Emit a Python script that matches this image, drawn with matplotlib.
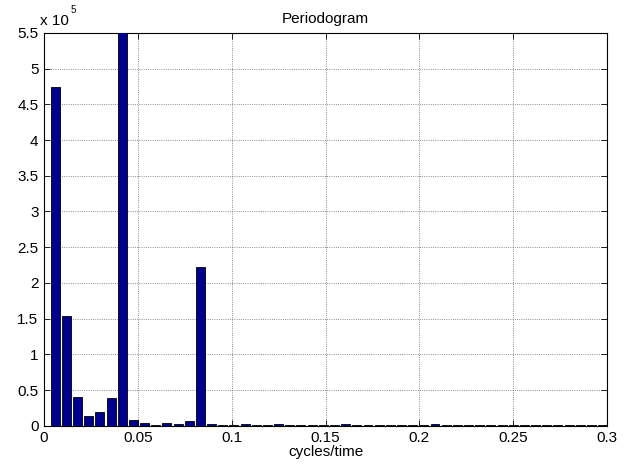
# periodogram bar chart (MATLAB look)

import numpy as np
import matplotlib
matplotlib.use('Agg')
import matplotlib.pyplot as plt

plt.rcParams['font.family'] = ['Liberation Sans', 'DejaVu Sans']
plt.rcParams['font.size'] = 11

# harmonic index k, frequency = k / n_obs
n_obs = 168
k = np.arange(1, 51)
# power in units of 1e5
power = [4.75, 1.54, 0.40, 0.135, 0.195, 0.385, 6.20, 0.08, 0.04, 0.004,
         0.04, 0.025, 0.07, 2.22, 0.025, 0.004, 0.005, 0.018, 0.004, 0.003,
         0.018, 0.004, 0.003, 0.004, 0.003, 0.004, 0.025, 0.003, 0.004, 0.003,
         0.003, 0.004, 0.003, 0.004, 0.03, 0.003, 0.004, 0.003, 0.003, 0.004,
         0.003, 0.003, 0.004, 0.003, 0.003, 0.004, 0.003, 0.003, 0.003, 0.003]
freq = k / n_obs

xticks = [0, 0.05, 0.1, 0.15, 0.2, 0.25, 0.3]
xtick_labels = ['0', '0.05', '0.1', '0.15', '0.2', '0.25', '0.3']
yticks = [0, 0.5, 1, 1.5, 2, 2.5, 3, 3.5, 4, 4.5, 5, 5.5]
ytick_labels = ['0', '0.5', '1', '1.5', '2', '2.5', '3', '3.5', '4', '4.5', '5', '5.5']

fig = plt.figure(figsize=(6.27, 4.69), dpi=100)
ax = fig.add_axes([0.0702, 0.0923, 0.898, 0.8374])

ax.bar(freq, power, width=0.8 / n_obs, color='#00008F', edgecolor='black',
       linewidth=0.6, zorder=3)

ax.set_xlim(0, 0.3)
ax.set_ylim(0, 5.5)
ax.set_xticks(xticks)
ax.set_xticklabels(xtick_labels)
ax.set_yticks(yticks)
ax.set_yticklabels(ytick_labels)
ax.tick_params(direction='in', top=True, right=True, length=4, width=0.6,
               labelsize=11, pad=4)
ax.grid(True, linestyle=':', color='#666666', linewidth=0.6, zorder=0)
for s in ax.spines.values():
    s.set_linewidth(0.8)

ax.set_title('Periodogram', fontsize=11, pad=7)
ax.set_xlabel('cycles/time', fontsize=11, labelpad=0)

# exponent label, MATLAB style
ax.text(-0.007, 1.012, 'x 10', transform=ax.transAxes, fontsize=11,
        ha='left', va='bottom')
ax.text(0.047, 1.047, '5', transform=ax.transAxes, fontsize=7,
        ha='left', va='bottom')

plt.savefig('out.png', dpi=100)
plt.close()
